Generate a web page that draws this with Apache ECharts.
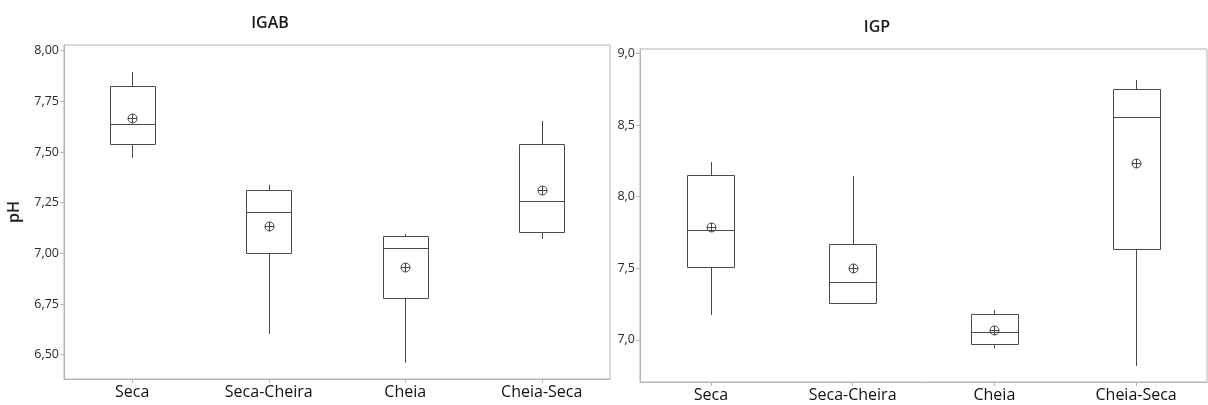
<!DOCTYPE html>
<html>
<head>
<meta charset="utf-8">
<title>pH – IGAB / IGP</title>
<script src="https://cdn.jsdelivr.net/npm/echarts@6/dist/echarts.min.js"></script>
<style>
  html, body { margin: 0; padding: 0; background: #fff; }
  #chart { width: 1208px; height: 405px; }
</style>
</head>
<body>
<div id="chart"></div>
<script>
// Sampling periods (x categories)
const categories = ['Seca', 'Seca-Cheira', 'Cheia', 'Cheia-Seca'];

// IGAB – five-number summaries and means of pH
const igabMin    = [7.469, 6.600, 6.461, 7.070];
const igabQ1     = [7.538, 7.003, 6.778, 7.106];
const igabMedian = [7.637, 7.204, 7.027, 7.260];
const igabQ3     = [7.826, 7.311, 7.087, 7.541];
const igabMax    = [7.896, 7.336, 7.097, 7.655];
const igabMean   = [7.669, 7.134, 6.931, 7.311];
const igabTicks  = [6.5, 6.75, 7.0, 7.25, 7.5, 7.75, 8.0];

// IGP – five-number summaries and means of pH
const igpMin    = [7.175, 7.247, 6.942, 6.820];
const igpQ1     = [7.506, 7.259, 6.970, 7.631];
const igpMedian = [7.769, 7.406, 7.056, 8.559];
const igpQ3     = [8.151, 7.669, 7.179, 8.753];
const igpMax    = [8.245, 8.147, 7.205, 8.813];
const igpMean   = [7.787, 7.503, 7.070, 8.235];
const igpTicks  = [7.0, 7.5, 8.0, 8.5, 9.0];

const LINE = '#4a4a4a';
const FRAME = '#b5b5b5';
const FONT = "'Open Sans', 'Noto Sans', sans-serif";

const crisp = v => Math.round(v) + 0.5;

function boxRows(mn, q1, md, q3, mx) {
  return categories.map((c, i) => [i, mn[i], q1[i], md[i], q3[i], mx[i]]);
}
function meanRows(m) {
  return categories.map((c, i) => [i, m[i]]);
}

// Box with median line and whiskers (no caps)
function renderBox(params, api) {
  const x = api.value(0);
  const pMin = api.coord([x, api.value(1)]);
  const pQ1 = api.coord([x, api.value(2)]);
  const pMd = api.coord([x, api.value(3)]);
  const pQ3 = api.coord([x, api.value(4)]);
  const pMax = api.coord([x, api.value(5)]);
  const band = api.size([1, 0])[0];
  const half = band * 0.165;
  const cx = crisp(pQ1[0]);
  const x0 = crisp(pQ1[0] - half);
  const x1 = crisp(pQ1[0] + half);
  const yQ1 = crisp(pQ1[1]), yQ3 = crisp(pQ3[1]), yMd = crisp(pMd[1]);
  const style = { stroke: LINE, lineWidth: 1, fill: null };
  return {
    type: 'group',
    children: [
      { type: 'line', shape: { x1: cx, y1: Math.round(pMax[1]), x2: cx, y2: yQ3 }, style },
      { type: 'line', shape: { x1: cx, y1: yQ1, x2: cx, y2: Math.round(pMin[1]) }, style },
      { type: 'rect', shape: { x: x0, y: yQ3, width: x1 - x0, height: yQ1 - yQ3 },
        style: { stroke: LINE, lineWidth: 1, fill: '#fff' } },
      { type: 'line', shape: { x1: x0, y1: yMd, x2: x1, y2: yMd }, style }
    ]
  };
}

// Mean marker: circle with a cross
function renderMean(params, api) {
  const p = api.coord([api.value(0), api.value(1)]);
  const cx = crisp(p[0]), cy = crisp(p[1]);
  const r = 4.5;
  const style = { stroke: '#444', lineWidth: 1, fill: null };
  return {
    type: 'group',
    children: [
      { type: 'circle', shape: { cx, cy, r }, style },
      { type: 'line', shape: { x1: cx - r, y1: cy, x2: cx + r, y2: cy }, style },
      { type: 'line', shape: { x1: cx, y1: cy - r, x2: cx, y2: cy + r }, style }
    ]
  };
}

function xAxisFor(gridIndex) {
  return {
    type: 'category',
    gridIndex,
    data: categories,
    boundaryGap: true,
    axisLine: { show: true, lineStyle: { color: FRAME, width: 1 } },
    axisTick: { show: true, alignWithLabel: true, length: 4, lineStyle: { color: FRAME } },
    axisLabel: { color: '#111', fontFamily: FONT, fontSize: 16, fontWeight: 500, margin: 5 },
    splitLine: { show: false }
  };
}

function yAxisFor(gridIndex, min, max, ticks, digits, name) {
  return {
    type: 'value',
    gridIndex,
    min, max,
    name,
    nameLocation: 'middle',
    nameGap: 42,
    nameTextStyle: { color: '#1a1a1a', fontFamily: FONT, fontSize: 16, fontWeight: 600 },
    axisLine: { show: true, lineStyle: { color: FRAME, width: 1 } },
    axisTick: { show: true, length: 4, customValues: ticks, lineStyle: { color: FRAME } },
    axisLabel: {
      color: '#2a2a2a', fontFamily: FONT, fontSize: 12.5, margin: 5,
      customValues: ticks,
      formatter: v => v.toFixed(digits).replace('.', ',')
    },
    splitLine: { show: false }
  };
}

const chart = echarts.init(document.getElementById('chart'), null, { renderer: 'canvas' });

chart.setOption({
  animation: false,
  backgroundColor: '#fff',
  title: [
    { text: 'IGAB', left: 265, top: 10, textAlign: 'center',
      textStyle: { color: '#1a1a1a', fontFamily: FONT, fontSize: 16, fontWeight: 600 } },
    { text: 'IGP', left: 872, top: 14, textAlign: 'center',
      textStyle: { color: '#1a1a1a', fontFamily: FONT, fontSize: 16, fontWeight: 600 } }
  ],
  grid: [
    { left: 64, top: 45, width: 546, height: 334, show: true, borderColor: FRAME, borderWidth: 1, backgroundColor: 'transparent' },
    { left: 640, top: 49, width: 567, height: 333, show: true, borderColor: FRAME, borderWidth: 1, backgroundColor: 'transparent' }
  ],
  xAxis: [xAxisFor(0), xAxisFor(1)],
  yAxis: [
    yAxisFor(0, 6.38, 8.028, igabTicks, 2, 'pH'),
    yAxisFor(1, 6.705, 9.031, igpTicks, 1, '')
  ],
  series: [
    { type: 'custom', name: 'IGAB', xAxisIndex: 0, yAxisIndex: 0,
      renderItem: renderBox, data: boxRows(igabMin, igabQ1, igabMedian, igabQ3, igabMax), z: 2 },
    { type: 'custom', name: 'IGAB média', xAxisIndex: 0, yAxisIndex: 0,
      renderItem: renderMean, data: meanRows(igabMean), z: 3 },
    { type: 'custom', name: 'IGP', xAxisIndex: 1, yAxisIndex: 1,
      renderItem: renderBox, data: boxRows(igpMin, igpQ1, igpMedian, igpQ3, igpMax), z: 2 },
    { type: 'custom', name: 'IGP média', xAxisIndex: 1, yAxisIndex: 1,
      renderItem: renderMean, data: meanRows(igpMean), z: 3 }
  ]
});
</script>
</body>
</html>
